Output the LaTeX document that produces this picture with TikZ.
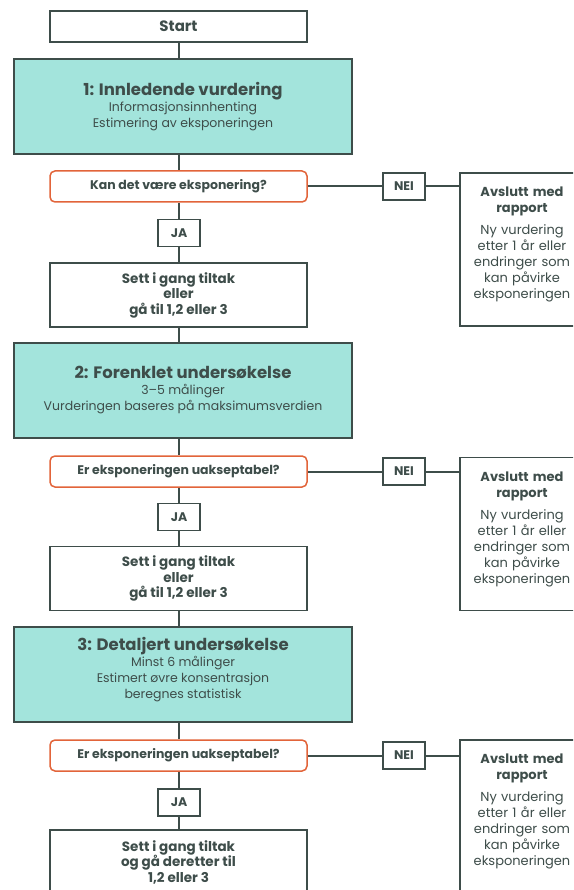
\documentclass[tikz,border=0pt]{standalone}
\usepackage{fontspec}
\setmainfont{Poppins}
\usetikzlibrary{positioning}
\definecolor{mteal}{HTML}{A3E4DC}
\definecolor{mdark}{HTML}{3E4D4A}
\definecolor{morange}{HTML}{E2643A}
\tikzset{
  box/.style = {draw = mdark, line width = 1.5, fill = white, text = mdark, align = center,
    inner sep = 0, minimum width = 257, minimum height = 31, font = \bfseries\fontsize{12.5}{15}\selectfont},
  stage/.style = {box, fill = mteal, minimum width = 338, minimum height = 95, font = \fontsize{12.5}{16}\selectfont},
  question/.style = {box, draw = morange, rounded corners = 5},
  answer/.style = {box, minimum width = 42, minimum height = 27},
  action/.style = {box, minimum height = 64, font = \bfseries\fontsize{13.5}{15.5}\selectfont},
  report/.style = {box, minimum width = 124, minimum height = 153, text width = 122,
    font = \fontsize{13}{16}\selectfont},
  link/.style = {draw = mdark, line width = 2}
}
\newcommand{\stagetitle}[1]{{\bfseries\fontsize{16.5}{20}\selectfont #1}}
\newcommand{\reporttext}{\textbf{Avslutt med}\\\textbf{rapport}\\[6pt]Ny vurdering\\etter 1 år eller\\endringer som\\kan påvirke\\eksponeringen\rule[-13pt]{0pt}{1pt}}

\begin{document}
\begin{tikzpicture}[x = 1pt, y = -1pt]

  \clip (0, 0) rectangle (573, 890);
  \fill[white] (0, 0) rectangle (573, 890);

  \node [box, font = \bfseries\fontsize{15}{18}\selectfont] (start) at (178.5, 26.5) {Start};
  \node [stage] (vurd) at (183, 106.5) {\stagetitle{1: Innledende vurdering}\\Informasjonsinnhenting\\Estimering av eksponeringen};

  \node [question] (q1) at (178.5, 186.5) {Kan det være eksponering?};
  \node [answer] (nei1) at (404, 186.5) {NEI};
  \node [report] (rap1) at (522, 249.5) {\reporttext};
  \node [answer] (ja1) at (179, 233) {JA};
  \node [action] (tiltak1) at (178.5, 295) {Sett i gang tiltak\\eller\\gå til 1,2 eller 3};

  \node [stage] (enkel) at (183, 390.5) {\stagetitle{2: Forenklet undersøkelse}\\3–5 målinger\\Vurderingen baseres på maksimumsverdien};

  \node [question] (q2) at (178.5, 471.5) {Er eksponeringen uakseptabel?};
  \node [answer] (nei2) at (404, 471.5) {NEI};
  \node [report] (rap2) at (522, 534) {\reporttext};
  \node [answer] (ja2) at (179, 517) {JA};
  \node [action] (tiltak2) at (178.5, 578.5) {Sett i gang tiltak\\eller\\gå til 1,2 eller 3};

  \node [stage] (detalj) at (183, 674.5) {\stagetitle{3: Detaljert undersøkelse}\\Minst 6 målinger\\Estimert øvre konsentrasjon\\beregnes statistisk\rule[-13pt]{0pt}{1pt}};

  \node [question] (q3) at (178.5, 755.5) {Er eksponeringen uakseptabel?};
  \node [answer] (nei3) at (404, 755.5) {NEI};
  \node [report] (rap3) at (522, 816.5) {\reporttext};
  \node [answer] (ja3) at (179, 802.5) {JA};
  \node [action] (tiltak3) at (178.5, 862) {Sett i gang tiltak\\og gå deretter til\\1,2 eller 3};

  \draw [link] (start.south) -- (start.south |- vurd.north);
  \draw [link] (vurd.south -| q1.north) -- (q1.north);
  \draw [link] (q1.south) -- (q1.south |- ja1.north);
  \draw [link] (ja1.south -| q1.south) -- (q1.south |- tiltak1.north);
  \draw [link] (tiltak1.south) -- (tiltak1.south |- enkel.north);
  \draw [link] (q1.east) -- (nei1.west);
  \draw [link] (nei1.east) -- (nei1.east -| rap1.west);

  \draw [link] (enkel.south -| q2.north) -- (q2.north);
  \draw [link] (q2.south) -- (q2.south |- ja2.north);
  \draw [link] (ja2.south -| q2.south) -- (q2.south |- tiltak2.north);
  \draw [link] (tiltak2.south) -- (tiltak2.south |- detalj.north);
  \draw [link] (q2.east) -- (nei2.west);
  \draw [link] (nei2.east) -- (nei2.east -| rap2.west);

  \draw [link] (detalj.south -| q3.north) -- (q3.north);
  \draw [link] (q3.south) -- (q3.south |- ja3.north);
  \draw [link] (ja3.south -| q3.south) -- (q3.south |- tiltak3.north);
  \draw [link] (q3.east) -- (nei3.west);
  \draw [link] (nei3.east) -- (nei3.east -| rap3.west);

\end{tikzpicture}
\end{document}
